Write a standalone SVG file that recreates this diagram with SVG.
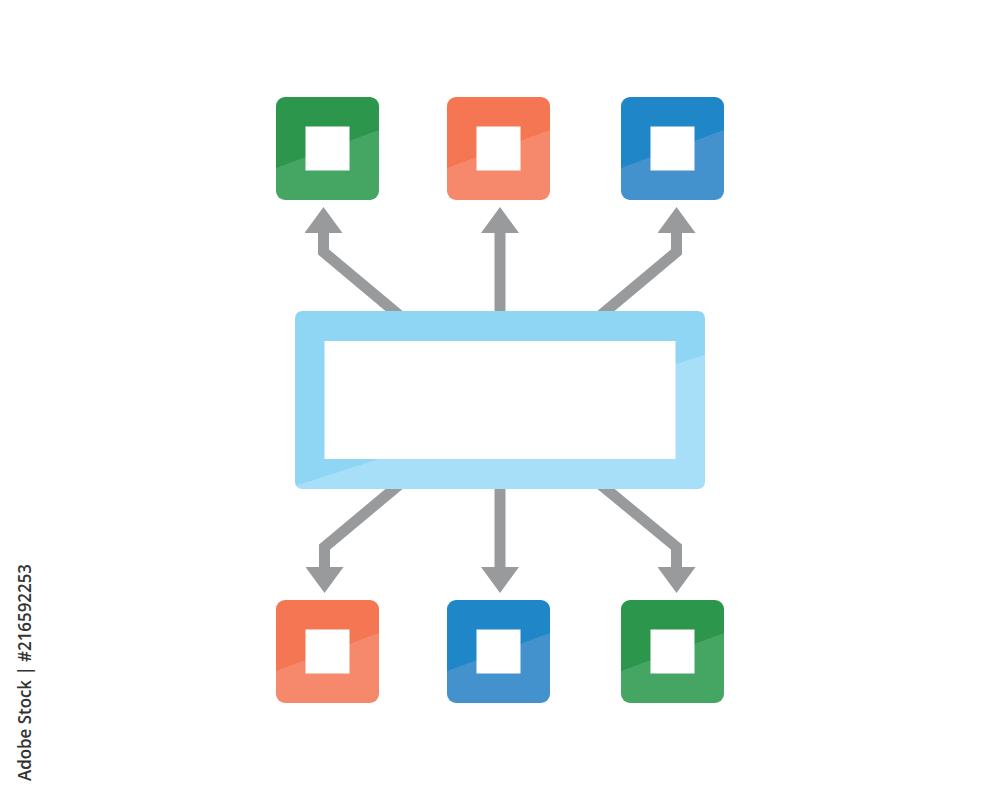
<svg xmlns="http://www.w3.org/2000/svg" width="1000" height="800" viewBox="0 0 1000 800">
  <style>
    .inner { fill: #ffffff; }
    .conn { fill: none; stroke: #999a9c; stroke-width: 11; stroke-linejoin: miter; stroke-linecap: butt; }
    .stamp { font-family: "Open Sans", "Liberation Sans", sans-serif; font-size: 18px; font-weight: 600; fill: #333333; }
  </style>
  <defs>
    <linearGradient id="gGreen" x1="0" y1="0" x2="0.37" y2="1">
      <stop offset="0.607" stop-color="#2c974c"/><stop offset="0.607" stop-color="#45a664"/>
    </linearGradient>
    <linearGradient id="gOrange" x1="0" y1="0" x2="0.37" y2="1">
      <stop offset="0.607" stop-color="#f47652"/><stop offset="0.607" stop-color="#f6896b"/>
    </linearGradient>
    <linearGradient id="gBlue" x1="0" y1="0" x2="0.37" y2="1">
      <stop offset="0.607" stop-color="#1f87c8"/><stop offset="0.607" stop-color="#4392ce"/>
    </linearGradient>
    <linearGradient id="gSky" x1="0" y1="0" x2="0.736" y2="1">
      <stop offset="0.637" stop-color="#8fd6f5"/><stop offset="0.637" stop-color="#a7dff9"/>
    </linearGradient>
    <marker id="head" markerUnits="userSpaceOnUse" markerWidth="26" markerHeight="38" viewBox="0 0 26 38" refX="0" refY="19" orient="auto">
      <path d="M0,0 L26,19 L0,38 Z" fill="#999a9c"/>
    </marker>
  </defs>

  <g id="connectors">
    <polyline class="conn" points="400,316 323.5,252 323.5,233" marker-end="url(#head)"/>
    <polyline class="conn" points="500,316 500,233" marker-end="url(#head)"/>
    <polyline class="conn" points="600,316 676.5,252 676.5,233" marker-end="url(#head)"/>
    <polyline class="conn" points="400,484 324.5,547 324.5,567" marker-end="url(#head)"/>
    <polyline class="conn" points="500,484 500,567" marker-end="url(#head)"/>
    <polyline class="conn" points="600,484 676.5,547 676.5,567" marker-end="url(#head)"/>
  </g>

  <g id="center">
    <rect x="295" y="311" width="410" height="178" rx="7" fill="url(#gSky)"/>
    <rect class="inner" x="324.5" y="341" width="351" height="118"/>
  </g>

  <g id="top-left">
    <rect x="276" y="97" width="103" height="103" rx="9" fill="url(#gGreen)"/>
    <rect class="inner" x="305.5" y="126.5" width="44" height="44"/>
  </g>
  <g id="top-center">
    <rect x="447" y="97" width="103" height="103" rx="9" fill="url(#gOrange)"/>
    <rect class="inner" x="476.5" y="126.5" width="44" height="44"/>
  </g>
  <g id="top-right">
    <rect x="621" y="97" width="103" height="103" rx="9" fill="url(#gBlue)"/>
    <rect class="inner" x="650.5" y="126.5" width="44" height="44"/>
  </g>

  <g id="bottom-left">
    <rect x="276" y="600" width="103" height="103" rx="9" fill="url(#gOrange)"/>
    <rect class="inner" x="305.5" y="629.5" width="44" height="44"/>
  </g>
  <g id="bottom-center">
    <rect x="447" y="600" width="103" height="103" rx="9" fill="url(#gBlue)"/>
    <rect class="inner" x="476.5" y="629.5" width="44" height="44"/>
  </g>
  <g id="bottom-right">
    <rect x="621" y="600" width="103" height="103" rx="9" fill="url(#gGreen)"/>
    <rect class="inner" x="650.5" y="629.5" width="44" height="44"/>
  </g>

  <text class="stamp" transform="translate(31,781) rotate(-90)" x="0" y="0" textLength="217" lengthAdjust="spacingAndGlyphs">Adobe Stock | #216592253</text>
</svg>
